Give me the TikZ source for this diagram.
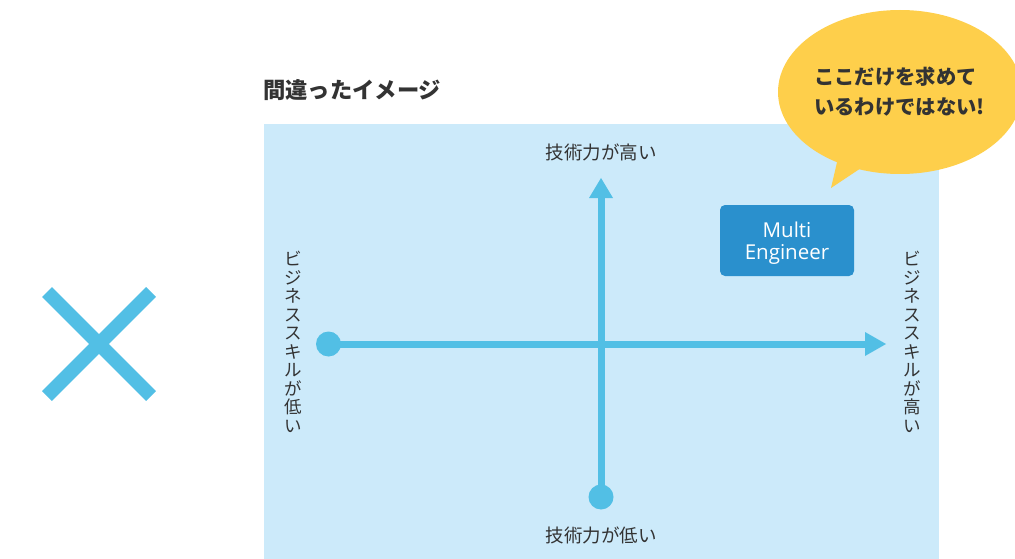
\documentclass[tikz,border=0pt]{standalone}
\usepackage{fontspec}
\setmainfont{Noto Sans CJK JP}
\newfontfamily\latinfont{Open Sans}
\usetikzlibrary{shapes.geometric}
\definecolor{axisblue}{HTML}{52BFE5}
\definecolor{bgblue}{HTML}{CCEAFA}
\definecolor{boxblue}{HTML}{2A90CD}
\definecolor{bubbleyellow}{HTML}{FECF4B}
\definecolor{textgray}{HTML}{333333}
\tikzset{
  axisline/.style={draw=axisblue, line width=7pt},
  endcircle/.style={circle, fill=axisblue, inner sep=0pt, minimum size=25pt},
  axislabel/.style={text=textgray, font=\fontsize{18.5}{20}\selectfont, inner sep=0pt},
  vlabel/.style={text=textgray, font=\fontsize{17.5}{18.5}\selectfont, align=center, inner sep=0pt},
}
\begin{document}
\begin{tikzpicture}[x=1pt,y=-1pt]
\useasboundingbox (0,0) rectangle (1015,559);
% cross mark
\draw[draw=axisblue, line width=14pt] (47,292) -- (151,396);
\draw[draw=axisblue, line width=14pt] (151,292) -- (47,396);
% title
\node[anchor=west, text=textgray, font=\fontsize{22.3}{26}\selectfont\bfseries, inner sep=0pt] (title) at (263,90) {間違ったイメージ};
% background
\fill[bgblue] (264,124) rectangle (939,559);
% axes
\node[endcircle] (hstart) at (328.5,344) {};
\coordinate (hbase) at (866,344);
\coordinate (htip) at (886,344);
\draw[axisline] (hstart.center) -- (hbase);
\fill[axisblue] (htip) -- (865,332) -- (865,356) -- cycle;
\node[endcircle] (vstart) at (601,497) {};
\coordinate (vbase) at (601,196);
\coordinate (vtip) at (601,178);
\draw[axisline] (vstart.center) -- (vbase);
\fill[axisblue] (vtip) -- (589,198) -- (613,198) -- cycle;
% axis labels
\node[axislabel] (top) at (601,152) {技術力が高い};
\node[axislabel] (bottom) at (601,535) {技術力が低い};
\node[vlabel] (left) at (293,342) {ビ\\ジ\\ネ\\ス\\ス\\キ\\ル\\が\\低\\い};
\node[vlabel] (right) at (912,342) {ビ\\ジ\\ネ\\ス\\ス\\キ\\ル\\が\\高\\い};
% multi engineer box
\node[fill=boxblue, rounded corners=5pt, minimum width=134pt, minimum height=71pt, inner sep=0pt] (me) at (787,240.5) {};
\node[text=white, align=center, inner sep=0pt, font=\latinfont\fontsize{20.5}{22.5}\selectfont] (metext) at (787,243) {Multi\\Engineer};
% speech bubble
\fill[bubbleyellow] (838,158) -- (831,188) -- (864,166) -- cycle;
\node[ellipse, fill=bubbleyellow, minimum width=244pt, minimum height=164pt, inner sep=0pt] (bubble) at (900,92) {};
\node[anchor=west, text=textgray, align=left, font=\fontsize{20.3}{30}\selectfont\bfseries, inner sep=0pt] (btext) at (814,92) {ここだけを求めて\\いるわけではない!};
\end{tikzpicture}
\end{document}
